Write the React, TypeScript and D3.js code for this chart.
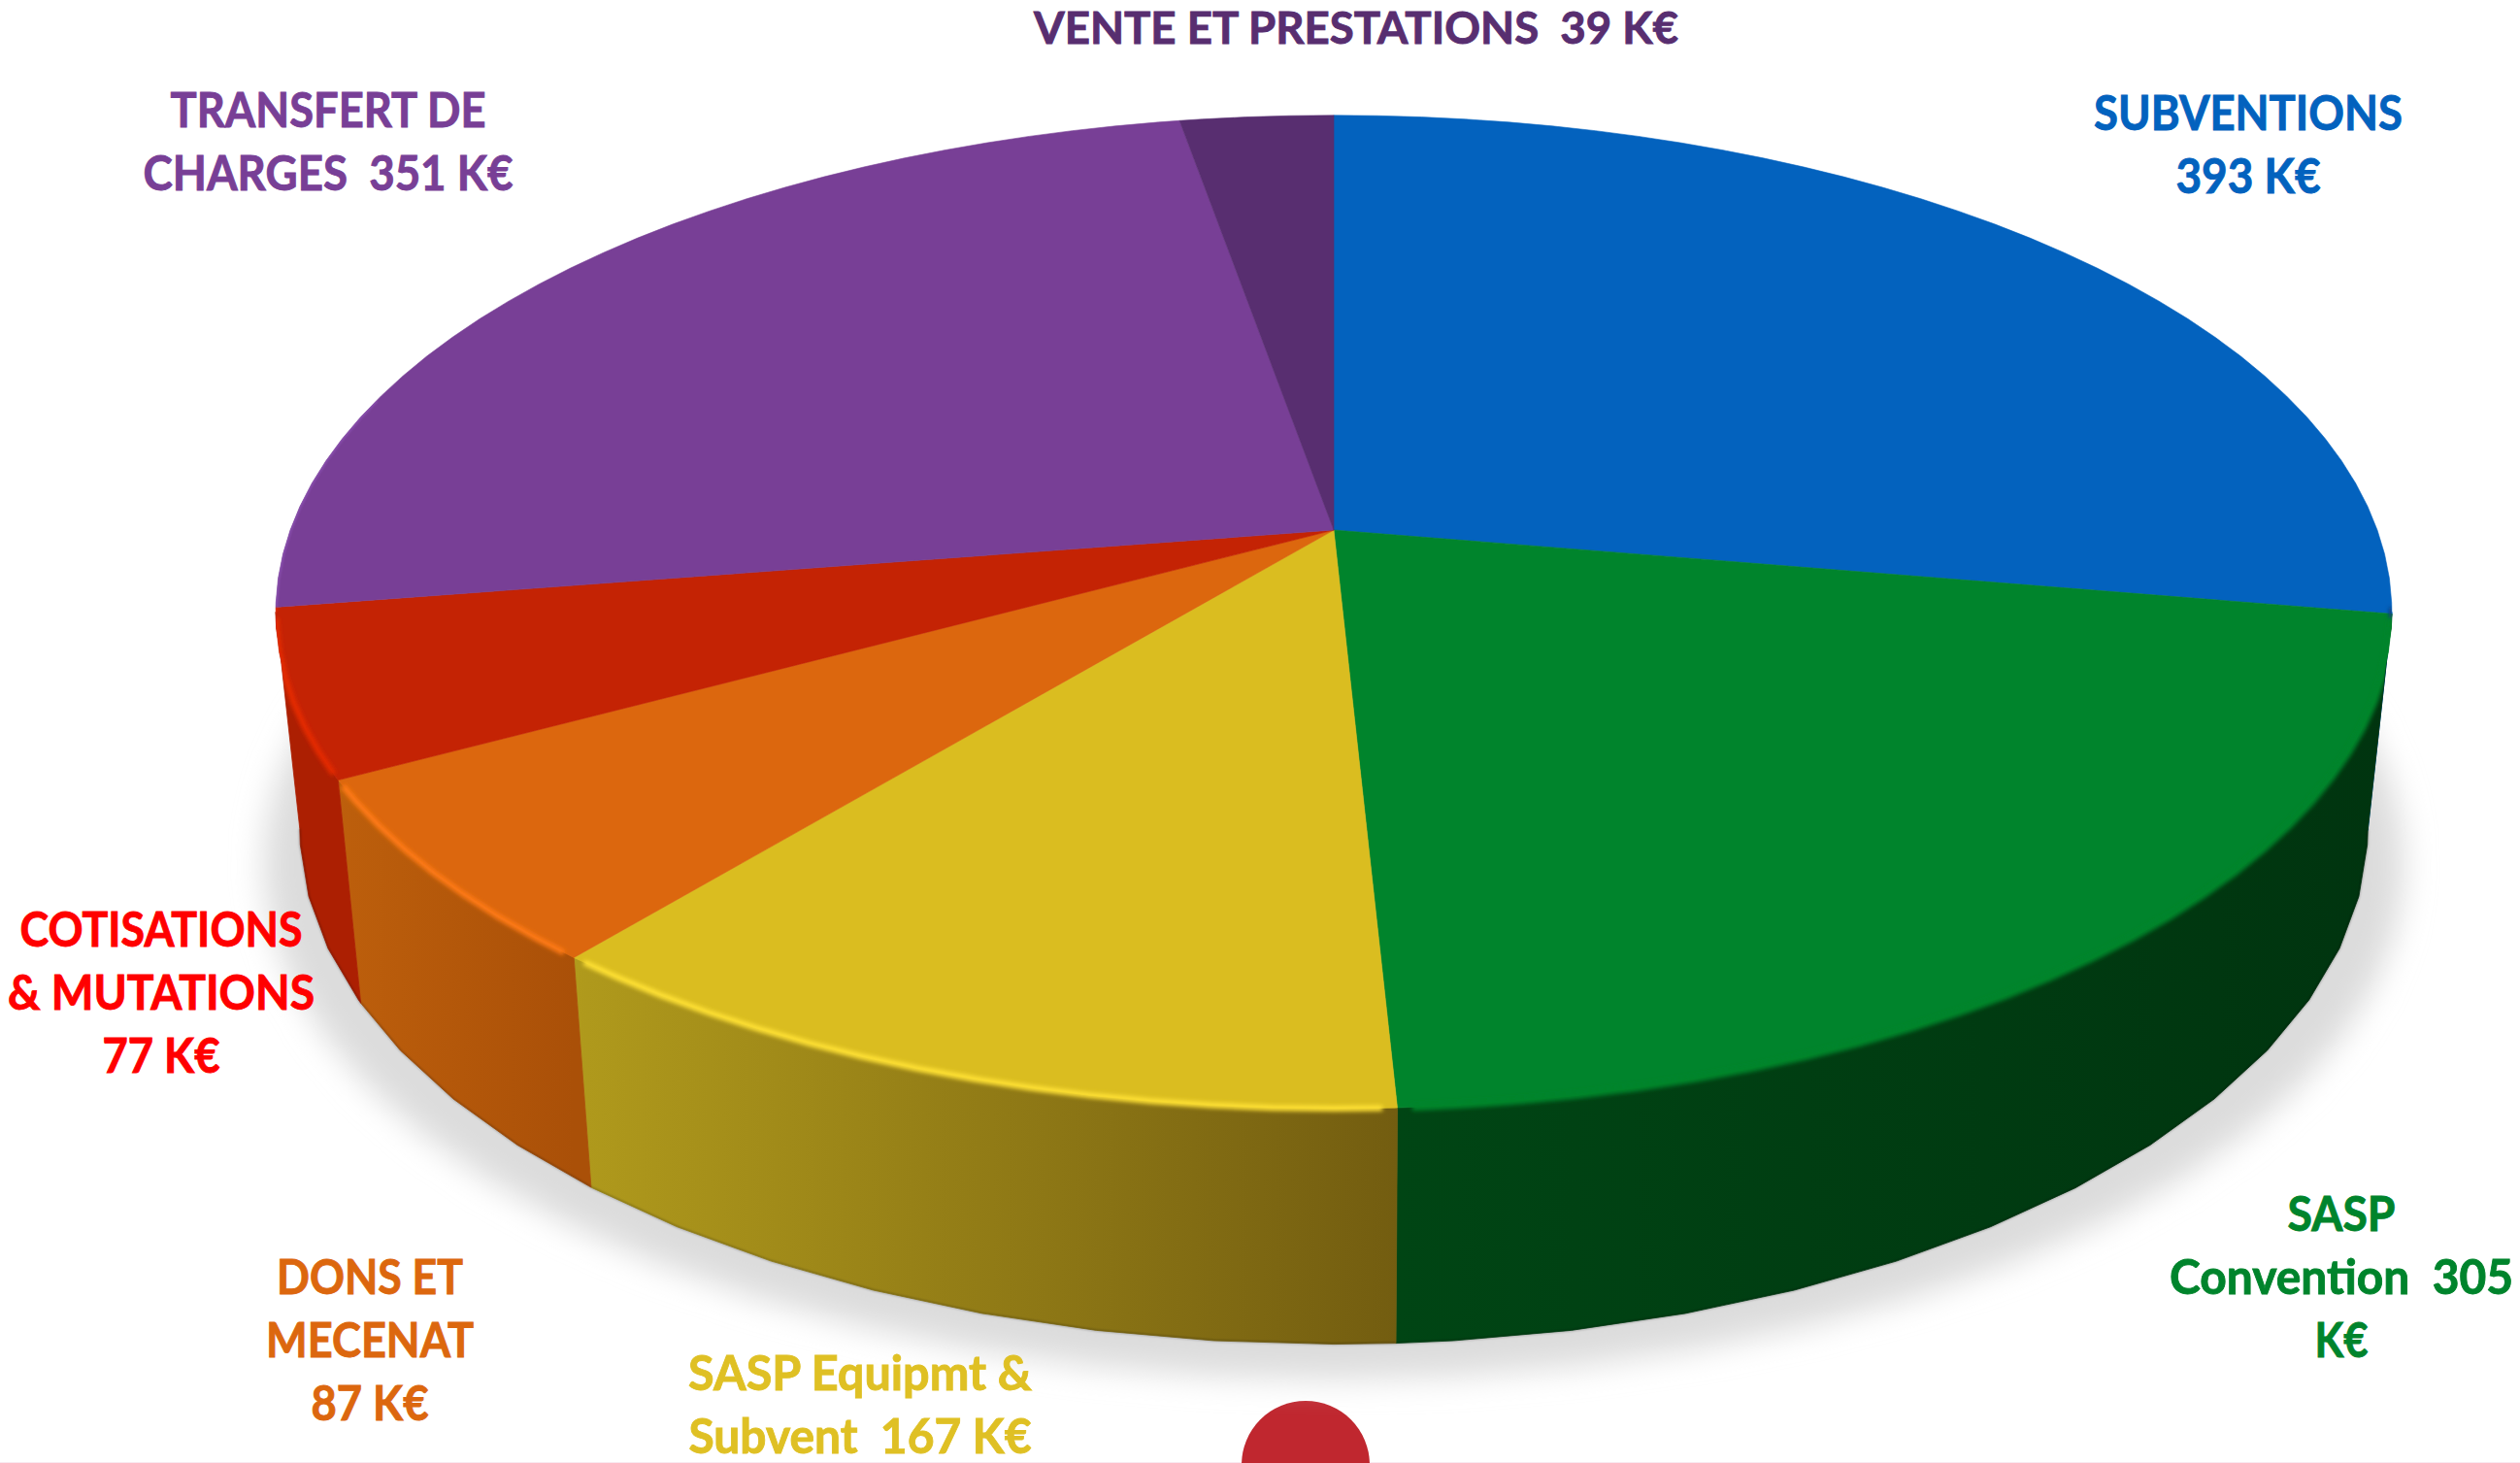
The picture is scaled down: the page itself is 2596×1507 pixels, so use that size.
import React from 'react';
import * as d3 from 'd3';

const categories = ['SUBVENTIONS', 'SASP Convention', 'SASP Equipmt & Subvent', 'DONS ET MECENAT', 'COTISATIONS & MUTATIONS', 'TRANSFERT DE CHARGES', 'VENTE ET PRESTATIONS'];
const values = [393, 305, 167, 87, 77, 351, 39];
const faceColors = ['#0362be', '#00842c', '#dabd20', '#dc670e', '#c42304', '#783f96', '#582e70'];
const rimColors = ['#0a3f80', '#00842c', '#ffe135', '#ff7a14', '#e62a04', '#8a4fb0', '#582e70'];
const wallLeft = ['#0362be', '#004514', '#b09a1c', '#bd5f0c', '#ac1f02', '#783f96', '#582e70'];
const wallRight = ['#0362be', '#00340f', '#735d10', '#aa5008', '#ac1f02', '#783f96', '#582e70'];

const labelLines = [
  ['SUBVENTIONS', '393 K€'],
  ['SASP', 'Convention  305', 'K€'],
  ['SASP Equipmt &', 'Subvent  167 K€'],
  ['DONS ET', 'MECENAT', '87 K€'],
  ['COTISATIONS', '& MUTATIONS', '77 K€'],
  ['TRANSFERT DE', 'CHARGES  351 K€'],
  ['VENTE ET PRESTATIONS  39 K€'],
];
const labelWidths = [
  [318, 149],
  [111, 354, 55],
  [354, 353],
  [192, 214, 121],
  [291, 316, 121],
  [325, 381],
  [664],
];
const labelColors = ['#0362be', '#00842c', '#dfc024', '#dc670e', '#ff0000', '#783f96', '#582e70'];
// centre x and first baseline of each label, in pixels
const labelX = [2316, 2412, 886, 381, 166, 338, 1397];
const labelY = [134, 1268, 1432, 1333, 975, 131, 45];
const lineGap = 65;

const W = 2596;
const H = 1507;
const K = 0.165; // perspective of the disc

// unit disc -> pixels, top face and bottom rim
const xTop = d3.scaleLinear().domain([-1, 1]).range([1374 - 1075, 1374 + 1075]);
const yTop = d3.scaleLinear().domain([-1, 1]).range([546 - 497.7, 546 + 497.7]);
const xBottom = d3.scaleLinear().domain([-1, 1]).range([1374 - 1050.6, 1374 + 1050.6]);
const yBottom = d3.scaleLinear().domain([-1, 1]).range([766 - 516.5, 766 + 516.5]);

const project = (a: number, xs: any, ys: any): [number, number] => {
  const u = Math.sin(a);
  const v = -Math.cos(a);
  const w = 1 - K * v;
  return [xs(u / w), ys(v / w)];
};

const step = (2 * Math.PI) / 64; // the lower rim is a polygon in the reference

const samples = (a0: number, a1: number, s: number = step) => {
  const inner = d3.range(Math.floor(a0 / s) + 1, Math.ceil(a1 / s)).map((k) => k * s);
  return [a0, ...inner.filter((a) => a > a0 + 1e-6 && a < a1 - 1e-6), a1];
};

const line = d3.line();
const arcs = d3.pie<number>().sort(null)(values);
const visibleFrom = Math.acos(-K);
const visibleTo = 2 * Math.PI - visibleFrom;
const edgeReach = 0.45; // how far the thin edge runs past the visible wall

export default function App() {
  const shadow = samples(0, 2 * Math.PI).map((a) => {
    const [x, y] = project(a, xBottom, yBottom);
    return [1374 + (x - 1374) * 1.035, y + 36] as [number, number];
  });
  const fine = step / 2;
  const disc = samples(0, 2 * Math.PI, fine).map((a) => project(a, xTop, yTop));
  const frontAngles = samples(visibleFrom, visibleTo);
  const wallOutline = [
    ...frontAngles.map((a) => project(a, xTop, yTop)),
    ...[...frontAngles].reverse().map((a) => project(a, xBottom, yBottom)),
  ];

  return (
    <svg width={W} height={H} style={{ position: 'absolute', left: 0, top: 0, background: '#fff' }}>
      <defs>
        <filter id="shadowBlur" filterUnits="userSpaceOnUse" x="0" y="0" width={W} height={H}>
          <feGaussianBlur stdDeviation="16" />
        </filter>
        <filter id="rimBlur" filterUnits="userSpaceOnUse" x="0" y="0" width={W} height={H}>
          <feGaussianBlur stdDeviation="2" />
        </filter>
        <filter id="edgeBlur" filterUnits="userSpaceOnUse" x="0" y="0" width={W} height={H}>
          <feGaussianBlur stdDeviation="0.9" />
        </filter>
        <clipPath id="pieClip">
          <path d={line(disc) + 'Z'} />
          <path d={line(wallOutline) + 'Z'} />
        </clipPath>
        {arcs.map((d, i) => {
          const a0 = Math.max(d.startAngle, visibleFrom);
          const a1 = Math.min(d.endAngle, visibleTo);
          if (a1 <= a0) return null;
          const xs = [project(a0, xTop, yTop)[0], project(a1, xTop, yTop)[0]];
          return (
            <linearGradient key={i} id={`wall${i}`} gradientUnits="userSpaceOnUse" x1={d3.min(xs)} x2={d3.max(xs)} y1="0" y2="0">
              <stop offset="0" stopColor={wallLeft[i]} />
              <stop offset="1" stopColor={wallRight[i]} />
            </linearGradient>
          );
        })}
      </defs>

      <rect x="0" y="1506" width={W} height="1" fill="#f9e8f0" />
      <circle cx="1345" cy="1509" r="66" fill="#c0272f" />

      <path d={line(shadow) + 'Z'} fill="#dcdcdc" filter="url(#shadowBlur)" />

      {/* side wall */}
      {arcs.map((d, i) => {
        const a0 = Math.max(d.startAngle, visibleFrom);
        const a1 = Math.min(d.endAngle, visibleTo);
        if (a1 <= a0) return null;
        const as = samples(a0, a1);
        const top = as.map((a) => project(a, xTop, yTop));
        const bottom = as.map((a) => project(a, xBottom, yBottom));
        return (
          <g key={categories[i]}>
            <path d={line([...top, ...[...bottom].reverse()]) + 'Z'} fill={`url(#wall${i})`} stroke={`url(#wall${i})`} strokeWidth="0.8" />
            <path d={line(bottom)!} fill="none" stroke="#000" strokeOpacity="0.25" strokeWidth="2" filter="url(#edgeBlur)" />
          </g>
        );
      })}

      {/* top face */}
      {arcs.map((d, i) => {
        const rim = samples(d.startAngle, d.endAngle, fine).map((a) => project(a, xTop, yTop));
        return <path key={i} d={line([[xTop(0), yTop(0)], ...rim]) + 'Z'} fill={faceColors[i]} stroke={faceColors[i]} strokeWidth="0.6" />;
      })}

      <g clipPath="url(#pieClip)">
        {/* thin edge on the back slices, just before they turn out of sight */}
        {arcs.map((d, i) => {
          const a0 = Math.max(d.startAngle, visibleFrom - edgeReach);
          const a1 = Math.min(d.endAngle, visibleTo + edgeReach);
          if (a1 <= a0 || (d.startAngle >= visibleFrom && d.endAngle <= visibleTo)) return null;
          const from = d.endAngle <= visibleFrom ? a0 : Math.max(a0, visibleTo);
          const to = d.endAngle <= visibleFrom ? Math.min(a1, visibleFrom) : a1;
          if (to <= from || d.startAngle >= visibleTo + edgeReach) return null;
          const rim = samples(from, to, fine).map((a) => project(a, xTop, yTop));
          return <path key={i} d={line(rim)!} fill="none" stroke={rimColors[i]} strokeWidth="3" filter="url(#edgeBlur)" />;
        })}

        {/* lit edge along the front of the disc */}
        {arcs.map((d, i) => {
          const a0 = Math.max(d.startAngle, visibleFrom);
          const a1 = Math.min(d.endAngle, visibleTo);
          if (a1 <= a0) return null;
          const rim = samples(a0 + 0.012, a1 - 0.012, fine).map((a) => project(a, xTop, yTop));
          return <path key={i} d={line(rim)!} fill="none" stroke={rimColors[i]} strokeWidth={i === 1 ? 7 : 6} filter="url(#rimBlur)" />;
        })}
      </g>

      {labelLines.map((lines, i) =>
        lines.map((t, j) => (
          <text
            key={`${i}-${j}`}
            x={labelX[i]}
            y={labelY[i] + j * lineGap}
            fontFamily="Lato"
            fontWeight="700"
            fontSize={i === 6 ? 46 : 49}
            fill={labelColors[i]}
            stroke={labelColors[i]}
            strokeWidth="0.9"
            textAnchor="middle"
            textLength={labelWidths[i][j]}
            lengthAdjust="spacingAndGlyphs"
            style={{ whiteSpace: 'pre' }}
          >
            {t}
          </text>
        ))
      )}
    </svg>
  );
}
